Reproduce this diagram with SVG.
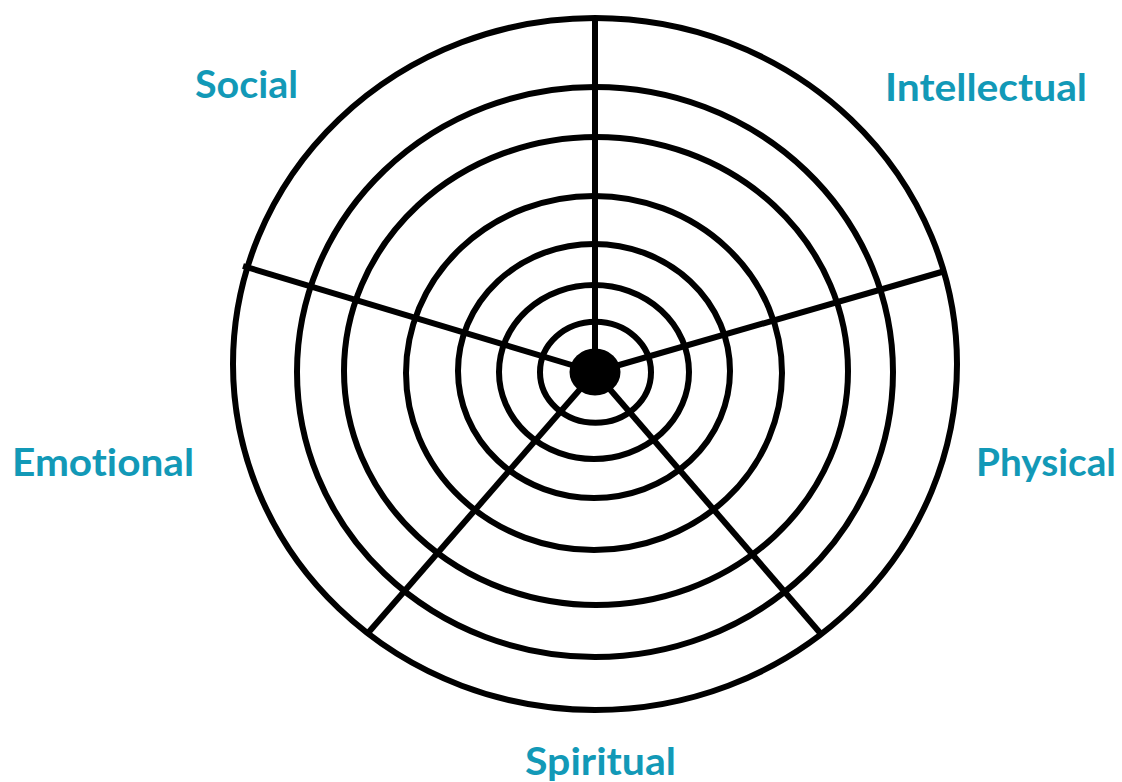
<svg xmlns="http://www.w3.org/2000/svg" width="1122" height="782" viewBox="0 0 1122 782">
<style>
.ring{fill:none;stroke:#000;stroke-width:6}
.spoke{stroke:#000;stroke-width:6;stroke-linecap:butt}
.lbl{font-family:Lato,"Open Sans","Liberation Sans",sans-serif;font-weight:700;font-size:38px;fill:#1299b7;font-variant-ligatures:none;font-feature-settings:"liga" 0,"clig" 0}
</style>
<rect width="1122" height="782" fill="#fff"/>
<g id="rings">
<ellipse class="ring" cx="595" cy="364" rx="362" ry="346"/>
<ellipse class="ring" cx="595" cy="372" rx="298" ry="285"/>
<ellipse class="ring" cx="596" cy="371" rx="252" ry="234"/>
<ellipse class="ring" cx="594" cy="373" rx="188" ry="177"/>
<ellipse class="ring" cx="594" cy="371" rx="136" ry="127"/>
<ellipse class="ring" cx="594" cy="372" rx="95" ry="87"/>
<ellipse class="ring" cx="595.5" cy="372.3" rx="55.5" ry="50.5"/>
</g>
<g id="spokes">
<line class="spoke" x1="595" y1="372" x2="595" y2="18"/>
<line class="spoke" x1="595" y1="372" x2="243" y2="266"/>
<line class="spoke" x1="595" y1="372" x2="945" y2="271"/>
<line class="spoke" x1="595" y1="372" x2="368" y2="633"/>
<line class="spoke" x1="595" y1="372" x2="821" y2="634"/>
</g>
<g id="hub"><ellipse cx="595" cy="372" rx="25.5" ry="23.5" fill="#000"/></g>
<g id="label-social"><text class="lbl" x="195" y="98" textLength="103" lengthAdjust="spacingAndGlyphs">Social</text></g>
<g id="label-intellectual"><text class="lbl" x="885" y="101" textLength="202" lengthAdjust="spacingAndGlyphs">Intellectual</text></g>
<g id="label-emotional"><text class="lbl" x="12" y="476" textLength="182" lengthAdjust="spacingAndGlyphs">Emotional</text></g>
<g id="label-physical"><text class="lbl" x="976" y="476" textLength="140" lengthAdjust="spacingAndGlyphs">Physical</text></g>
<g id="label-spiritual"><text class="lbl" x="525" y="775" textLength="151" lengthAdjust="spacingAndGlyphs">Spiritual</text></g>
</svg>
